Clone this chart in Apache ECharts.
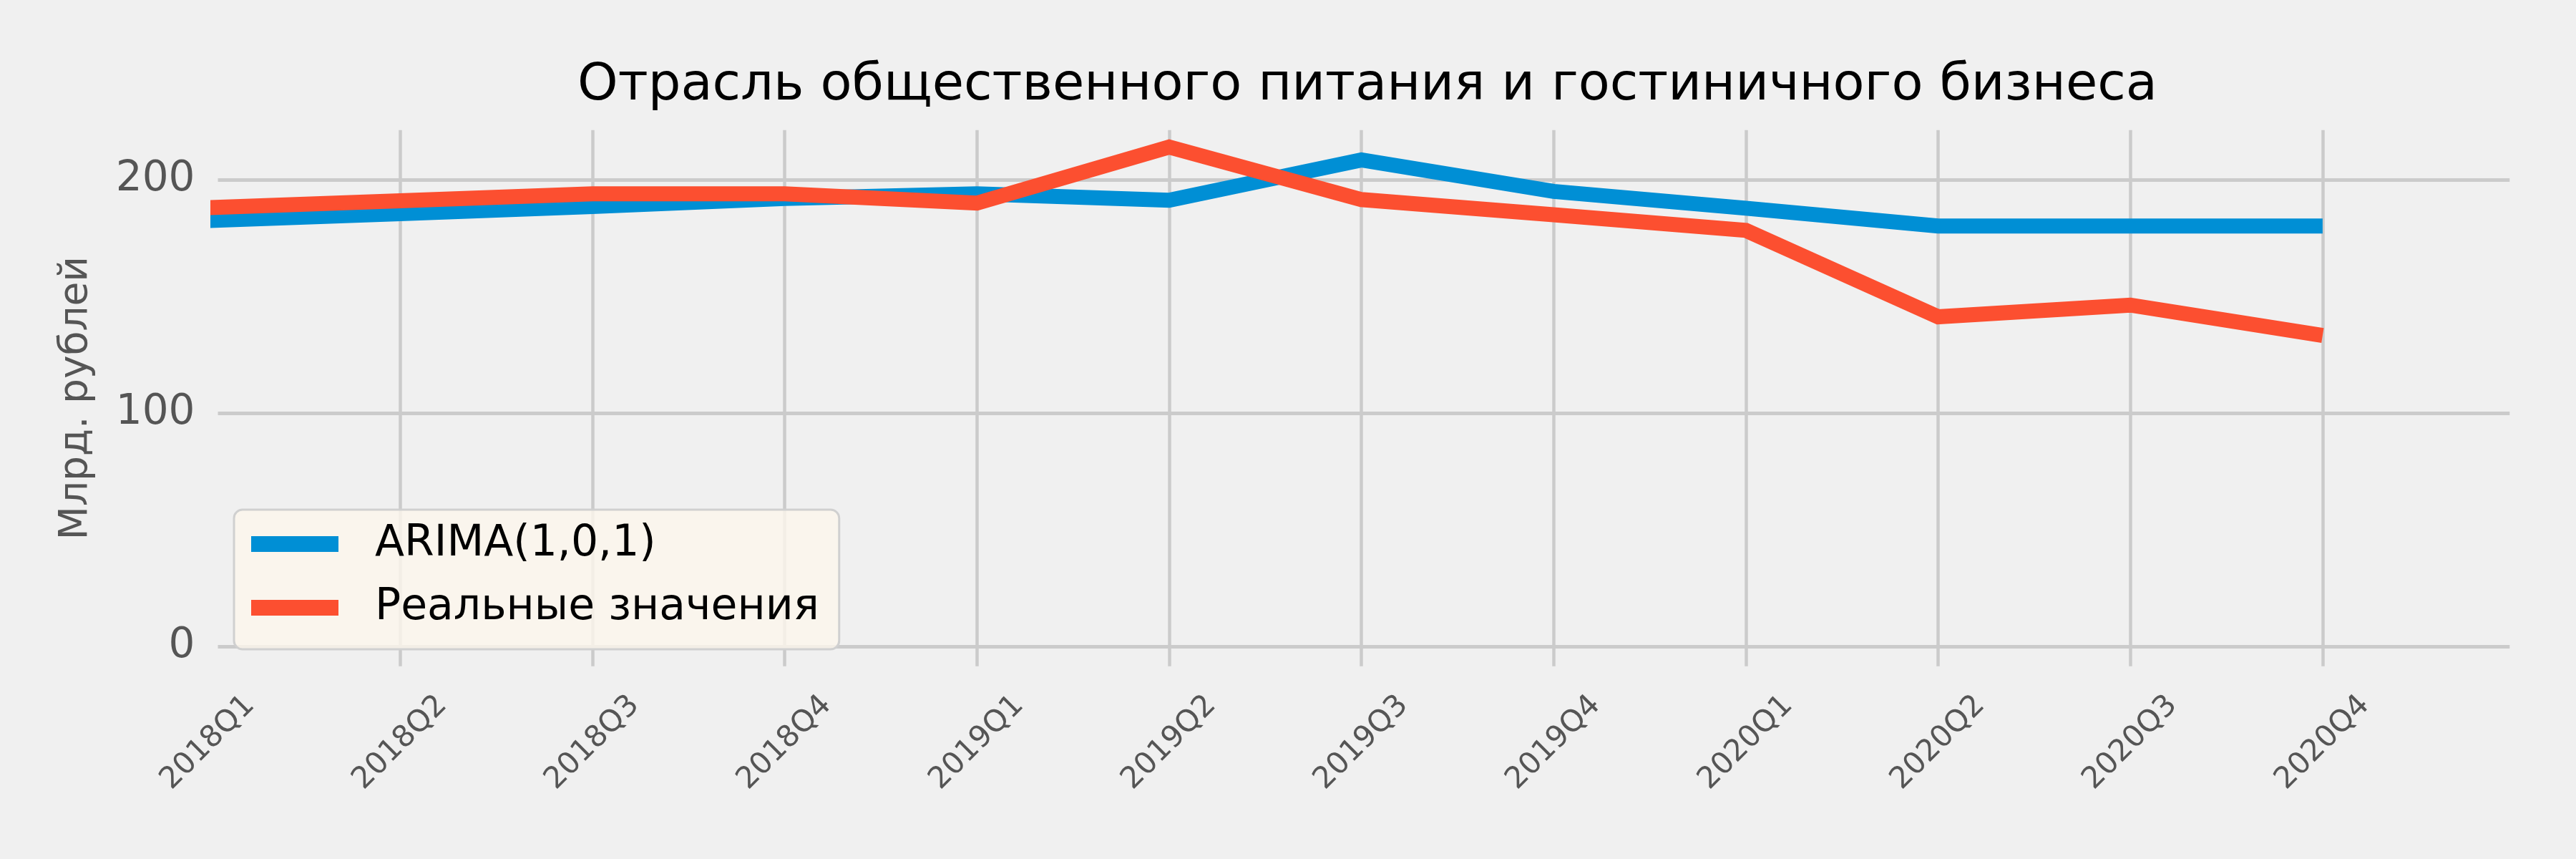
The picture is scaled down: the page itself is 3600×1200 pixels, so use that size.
<!DOCTYPE html>
<html>
<head>
<meta charset="utf-8">
<script src="https://cdn.jsdelivr.net/npm/echarts@6/dist/echarts.min.js"></script>
<style>
html,body{margin:0;padding:0;background:#f0f0f0;}
#c{width:3600px;height:1200px;}
</style>
</head>
<body>
<div id="c"></div>
<script>
// ---- data ----
const categories = ['2018Q1','2018Q2','2018Q3','2018Q4','2019Q1','2019Q2','2019Q3','2019Q4','2020Q1','2020Q2','2020Q3','2020Q4'];
const arimaValues = [182.5, 185.5, 188.5, 192.0, 194.0, 191.2, 208.5, 195.0, 187.8, 180.2, 180.2, 180.2];
const realValues  = [188.0, 191.0, 194.0, 194.0, 190.0, 214.0, 191.5, 185.0, 178.3, 141.3, 146.3, 133.3];
const seriesNames = ['ARIMA(1,0,1)', 'Реальные значения'];
const titleText = 'Отрасль общественного питания и гостиничного бизнеса';
const yAxisName = 'Млрд. рублей';

const FONT = 'DejaVu Sans';
const GRIDC = '#cbcbcb';

const chart = echarts.init(document.getElementById('c'), null, {renderer: 'canvas'});
const option = {
  backgroundColor: '#f0f0f0',
  animation: false,
  textStyle: {fontFamily: FONT},
  title: {
    text: titleText,
    left: 1906,
    textAlign: 'center',
    top: 79,
    textStyle: {fontFamily: FONT, fontSize: 72, fontWeight: 'normal', color: '#000'}
  },
  legend: {
    orient: 'vertical',
    left: 327,
    top: 712,
    data: seriesNames,
    icon: 'rect',
    itemWidth: 122,
    itemHeight: 22,
    itemGap: 29,
    padding: [18, 28, 28, 24],
    backgroundColor: 'rgba(252,246,236,0.8)',
    borderColor: '#d0d0d0',
    borderWidth: 3,
    borderRadius: 12,
    selectedMode: false,
    itemStyle: {borderWidth: 0},
    textStyle: {fontFamily: FONT, fontSize: 60, lineHeight: 60, color: '#000', padding: [0, 0, 0, 46]},
    z: 10
  },
  grid: [
    {left: 290.6, width: 11 * 268.67, top: 181.7, bottom: 269.3},
    {left: 304.5, right: 92.7, top: 250.9, bottom: 296.6},
    {left: 304.5, right: 92.7, top: 181.7, bottom: 269.3}
  ],
  xAxis: [
    {
      gridIndex: 0, type: 'category', data: categories, boundaryGap: false,
      axisLine: {show: false}, axisTick: {show: false},
      axisLabel: {rotate: 45, align: 'center', verticalAlign: 'middle', margin: 107,
                  fontSize: 42, color: '#555555', fontFamily: FONT, interval: 0},
      splitLine: {show: true, interval: function (i) { return i >= 1; },
                  lineStyle: {color: GRIDC, width: 4.5}}
    },
    {gridIndex: 1, type: 'value', show: false},
    {gridIndex: 2, type: 'value', min: 0.052, max: 11.973, show: false}
  ],
  yAxis: [
    {gridIndex: 0, type: 'value', show: false},
    {
      gridIndex: 1, type: 'value', min: 0, max: 200, interval: 100,
      axisLine: {show: false}, axisTick: {show: false},
      axisLabel: {fontSize: 58, color: '#555555', margin: 32, fontFamily: FONT},
      splitLine: {show: true, lineStyle: {color: GRIDC, width: 5}}
    },
    {
      gridIndex: 2, type: 'value', min: -8.37, max: 221.28,
      axisLine: {show: false}, axisTick: {show: false}, axisLabel: {show: false},
      splitLine: {show: false},
      name: yAxisName, nameLocation: 'middle', nameGap: 170,
      nameTextStyle: {fontSize: 55, color: '#555555', fontFamily: FONT}
    }
  ],
  series: [
    {
      name: seriesNames[0], type: 'line', xAxisIndex: 2, yAxisIndex: 2,
      data: arimaValues.map((v, i) => [i, v]),
      showSymbol: false, symbol: 'none', clip: true, z: 2,
      itemStyle: {color: '#008fd5'},
      lineStyle: {color: '#008fd5', width: 21, cap: 'butt', join: 'miter'}
    },
    {
      name: seriesNames[1], type: 'line', xAxisIndex: 2, yAxisIndex: 2,
      data: realValues.map((v, i) => [i, v]),
      showSymbol: false, symbol: 'none', clip: true, z: 3,
      itemStyle: {color: '#fc4f30'},
      lineStyle: {color: '#fc4f30', width: 21, cap: 'butt', join: 'miter'}
    }
  ]
};
chart.setOption(option);
</script>
</body>
</html>
